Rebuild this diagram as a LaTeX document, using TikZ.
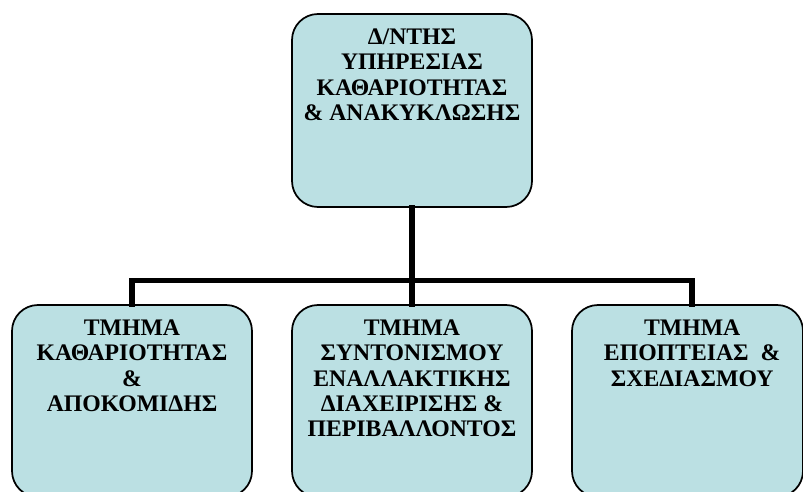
\documentclass[tikz,border=0pt]{standalone}
\usepackage{fontspec}
\setmainfont{Liberation Serif}
\definecolor{boxfill}{RGB}{187,224,227}
\newcommand{\boxtxt}[4]{\parbox[c][#1][t]{#2}{\centering\vspace*{#3}#4}}
\begin{document}
\begin{tikzpicture}[x=0.75pt,y=-0.75pt,
  orgbox/.style={draw=black, line width=1.3pt, fill=boxfill, rounded corners=19.5pt,
    inner sep=0pt, font=\bfseries\fontsize{17.8}{19}\selectfont},
  conn/.style={line width=4.2pt, line join=miter, line cap=rect}]
\useasboundingbox (0,0) rectangle (803,492);
\node[orgbox] (top) at (412,110.5)
  {\boxtxt{144.75pt}{180pt}{11pt}{Δ/ΝΤΗΣ\\ ΥΠΗΡΕΣΙΑΣ\\ ΚΑΘΑΡΙΟΤΗΤΑΣ\\ \& ΑΝΑΚΥΚΛΩΣΗΣ}};
\node[orgbox] (left) at (132,401)
  {\boxtxt{144pt}{180pt}{11pt}{ΤΜΗΜΑ\\ ΚΑΘΑΡΙΟΤΗΤΑΣ\\ \&\\ ΑΠΟΚΟΜΙΔΗΣ}};
\node[orgbox] (mid) at (412,401)
  {\boxtxt{144pt}{180pt}{11pt}{ΤΜΗΜΑ\\ ΣΥΝΤΟΝΙΣΜΟΥ\\ ΕΝΑΛΛΑΚΤΙΚΗΣ\\ ΔΙΑΧΕΙΡΙΣΗΣ \&\\ ΠΕΡΙΒΑΛΛΟΝΤΟΣ}};
\node[orgbox] (right) at (687.5,401)
  {\boxtxt{144pt}{173.25pt}{11pt}{\hspace*{7pt}ΤΜΗΜΑ\\ \hspace*{7pt}ΕΠΟΠΤΕΙΑΣ\ \ \&\\ \hspace*{7pt}ΣΧΕΔΙΑΣΜΟΥ}};
\coordinate (bar) at (412,280.5);
\draw[conn] (top.south) -- (mid.north);
\draw[conn] (left.north) |- (bar) -| ([xshift=3.4pt]right.north);
\end{tikzpicture}
\end{document}
